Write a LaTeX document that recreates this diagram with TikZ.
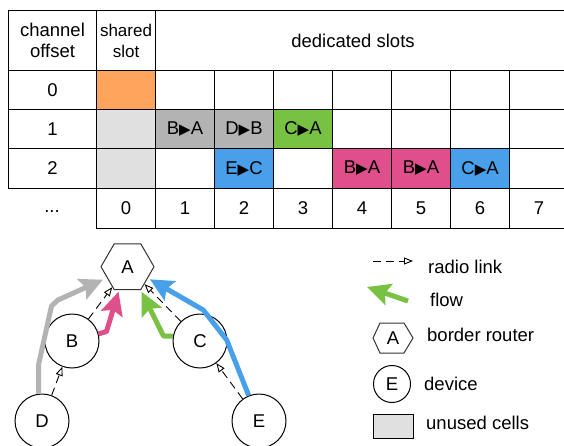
\documentclass[tikz,border=0pt]{standalone}
\usepackage{fontspec}
\setmainfont{Liberation Sans}
\newfontfamily\symfont{DejaVu Sans}
\usetikzlibrary{arrows.meta,shapes.geometric,calc}
\definecolor{corange}{HTML}{FFA45C}
\definecolor{cgray}{HTML}{B3B3B3}
\definecolor{clgray}{HTML}{E0E0E0}
\definecolor{cgreen}{HTML}{77C143}
\definecolor{cblue}{HTML}{489FEA}
\definecolor{cpink}{HTML}{DE4F8B}
\definecolor{chex}{HTML}{333333}
\newcommand\tri{{\symfont\fontsize{15}{15}\selectfont ▶}}
\begin{document}
\begin{tikzpicture}[x=1pt,y=-1pt,
  every node/.style={font=\fontsize{18.5}{21.5}\selectfont, inner sep=0pt},
  cell/.style={draw, line width=1pt, minimum width=59pt, minimum height=#1, anchor=north west},
  cell/.default=39pt,
  dev/.style={draw, circle, fill=white, line width=1pt, minimum size=54pt},
  radio/.style={draw, line width=0.9pt, dash pattern=on 8pt off 5pt, -{Triangle[open,length=9pt,width=7pt,fill=white]}},
  flow/.style={line width=5pt, line join=round, -{Stealth[length=23pt 0 0,width=22pt 0 0,inset=4pt]}},
]
\useasboundingbox (0,0) rectangle (564,445);
% ---------- table ----------
\node[cell=60pt, minimum width=88pt, align=center] (hch) at (8,10) {channel\\offset};
\node[cell=60pt, align=center, font=\fontsize{17}{21}\selectfont] (hsh) at (96,10) {shared\\slot};
\node[cell=60pt, minimum width=413pt] (hded) at (155,10) {};
\node (tded) at (353,41) {dedicated slots};
\node[cell, minimum width=88pt] (o0) at (8,70) {0};
\node[cell, minimum width=88pt] (o1) at (8,109) {1};
\node[cell=40pt, minimum width=88pt] (o2) at (8,148) {2};
\node[anchor=base] (odots) at (52,212) {...};
\node[cell, fill=corange] (s0) at (96,70) {};
\node[cell, fill=clgray] (s1) at (96,109) {};
\node[cell=40pt, fill=clgray] (s2) at (96,148) {};
\node[cell=40pt] (s3) at (96,188) {0};
\foreach \k in {1,...,7}{
  \pgfmathsetmacro\xx{155+59*(\k-1)}
  \node[cell] (a\k) at (\xx,70) {};
  \node[cell] (b\k) at (\xx,109) {};
  \node[cell=40pt] (c\k) at (\xx,148) {};
  \node[cell=40pt] (n\k) at (\xx,188) {\k};
}
\node[cell, fill=cgray] (f1) at (155,109) {B\tri A};
\node[cell, fill=cgray] (f2) at (214,109) {D\tri B};
\node[cell, fill=cgreen] (f3) at (273,109) {C\tri A};
\node[cell=40pt, fill=cblue] (f4) at (214,148) {E\tri C};
\node[cell=40pt, fill=cpink] (f5) at (332,148) {B\tri A};
\node[cell=40pt, fill=cpink] (f6) at (391,148) {B\tri A};
\node[cell=40pt, fill=cblue] (f7) at (450,148) {C\tri A};
% ---------- graph ----------
\node[draw=chex, fill=white, line width=1pt, regular polygon, regular polygon sides=6, minimum size=53pt] (A) at (127.5,266.7) {A};
\node[dev] (B) at (72,341) {B};
\node[dev] (C) at (200,341) {C};
\node[dev] (D) at (42,421) {D};
\node[dev] (E) at (259,421) {E};
\draw[radio] (B) -- (A);
\draw[radio] (C) -- (A);
\draw[radio] (D) -- (B);
\draw[radio] (E) -- (C);
\draw[flow, cgray] (D.97) -- (38.5,365) -- (51.5,306) -- (58,300) -- ($(A)+(-24.5,13)$);
\draw[flow, cpink] (B.15) -- (106.5,331.5) -- ($(A)+(-9,25)$);
\draw[flow, cgreen] (C.170) -- (163.5,336) -- ($(A)+(14,25)$);
\draw[flow, cblue] (E.112) -- (226.7,340) -- (203.3,310) -- ($(A)+(22.5,12.6)$);
% ---------- legend ----------
\coordinate (lr1) at (373,261);
\coordinate (lr2) at (413,261);
\draw[radio] (lr1) -- (lr2);
\node[anchor=base west] (lrt) at (428,273) {radio link};
\coordinate (lf1) at (408,301);
\coordinate (lf2) at (367,287);
\draw[flow, cgreen] (lf1) -- (lf2);
\node[anchor=base west] (lft) at (430,306) {flow};
\draw[chex, line width=1pt] (373,338) -- (380,323) -- (404,323) -- (413,338) -- (404,353) -- (380,353) -- cycle;
\node (lA) at (393,338) {A};
\node[anchor=base west] (lbt) at (427,341) {border router};
\node[dev, minimum size=37pt] (lE) at (392,384) {E};
\node[anchor=base west] (ldt) at (424,390) {device};
\node[draw, line width=1pt, fill=clgray, minimum width=40pt, minimum height=24pt] (lU) at (393,426) {};
\node[anchor=base west] (lut) at (426,429) {unused cells};
\end{tikzpicture}
\end{document}
